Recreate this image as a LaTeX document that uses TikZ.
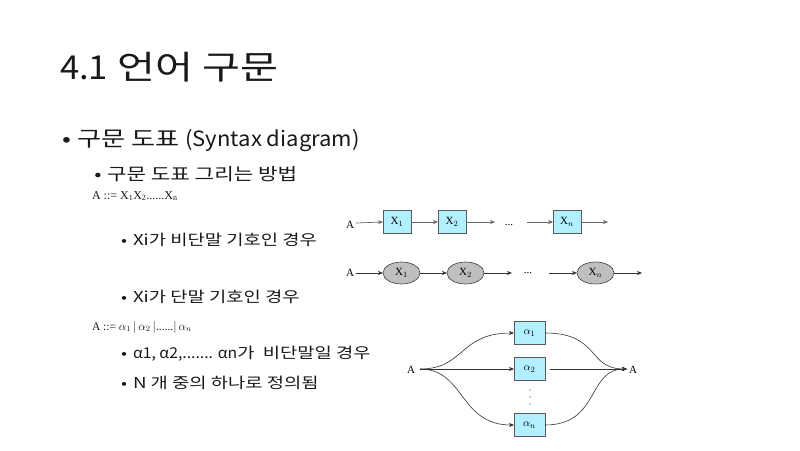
\documentclass[tikz,border=0pt]{standalone}
\usepackage{fontspec}
\setmainfont{Noto Sans CJK KR}[FakeStretch=1.25]
\newfontfamily\la{Noto Sans CJK KR}[FakeStretch=1.05]
\newfontfamily\serifx{Liberation Serif}
\usetikzlibrary{arrows.meta,shapes.geometric}
\begin{document}
\begin{tikzpicture}[x=1pt,y=-1pt,
  every node/.style={inner sep=0pt,outer sep=0pt},
  txt/.style={anchor=base west,text=black!90},
  bul/.style={anchor=base,text=black!90},
  bx/.style={draw=black!65,fill=blue!20!cyan!30,minimum width=28pt,minimum height=23pt,line width=0.6pt,font=\serifx\fontsize{11}{12}\selectfont},
  el/.style={ellipse,draw=black!75,fill=black!25,minimum width=37pt,minimum height=22pt,line width=0.6pt,font=\serifx\fontsize{11}{12}\selectfont},
  ab/.style={draw=black!65,fill=blue!20!cyan!30,minimum width=31pt,minimum height=23pt,line width=0.6pt,font=\serifx\fontsize{11}{12}\selectfont},
  arr/.style={-{Stealth[length=5pt,width=4pt]},line width=0.7pt,draw=black!60},
  arrd/.style={-{Stealth[length=5pt,width=4pt]},line width=0.6pt,draw=black!80},
  lbl/.style={font=\serifx\fontsize{11}{12}\selectfont}]
\useasboundingbox (0,0) rectangle (800,450);
\fill[white] (0,0) rectangle (800,450);
% title and bullets
\node[txt,font=\fontsize{33}{38}\selectfont] (title) at (60,79) {{\la 4.1} 언어 구문};
\node[bul,font=\fontsize{21}{25}\selectfont] (p1) at (67,146) {•};
\node[txt,font=\fontsize{21}{25}\selectfont] (b1) at (77,146) {구문 도표 {\la (Syntax diagram)}};
\node[bul,font=\fontsize{17}{22}\selectfont] (p2) at (98,180) {•};
\node[txt,font=\fontsize{17}{22}\selectfont] (b2) at (107,180) {구문 도표 그리는 방법};
\node[txt,font=\serifx\fontsize{12}{14}\selectfont] (f1) at (92,199) {A ::= X\textsubscript{1}X\textsubscript{2}......X\textsubscript{n}};
\node[bul,font=\fontsize{14}{18}\selectfont] (p3) at (124,245) {•};
\node[txt,font=\fontsize{15}{18}\selectfont] (b3) at (133,245) {Xi가 비단말 기호인 경우};
\node[bul,font=\fontsize{14}{18}\selectfont] (p4) at (124,302) {•};
\node[txt,font=\fontsize{15}{18}\selectfont] (b4) at (133,302) {Xi가 단말 기호인 경우};
\node[txt,font=\serifx\fontsize{11.5}{13}\selectfont] (f2) at (92,330) {A ::= $\alpha_1\,|\,\alpha_2\,|$......$|\,\alpha_n$};
\node[bul,font=\fontsize{14}{18}\selectfont] (p5) at (124,358) {•};
\node[txt,font=\fontsize{15}{18}\selectfont] (b5) at (133,358) {{\la α1, α2,....... αn}가 \ 비단말일 경우};
\node[bul,font=\fontsize{14}{18}\selectfont] (p6) at (124,388) {•};
\node[txt,font=\fontsize{15}{18}\selectfont] (b6) at (133,388) {N 개 중의 하나로 정의됨};
% diagram 1 (boxes)
\node[lbl] (A1) at (350,225) {A};
\node[bx] (X1) at (397,222) {X$_1$};
\node[bx] (X2) at (452,222) {X$_2$};
\node[lbl] (d1) at (509,225) {...};
\node[bx] (Xn) at (567,222) {X$_n$};
\coordinate (e1) at (495,222);
\coordinate (s1) at (527,222);
\coordinate (f1e) at (608,222);
\draw[arr] (A1.east) ++(2,-2) -- (X1.west);
\draw[arr] (X1.east) -- (X2.west);
\draw[arr] (X2.east) -- (e1);
\draw[arr] (s1) -- (Xn.west);
\draw[arr] (Xn.east) -- (f1e);
% diagram 2 (ellipses)
\node[lbl] (A2) at (350,273) {A};
\node[el] (Y1) at (401.5,273) {X$_1$};
\node[el] (Y2) at (465.5,273) {X$_2$};
\node[lbl] (d2) at (528,273) {...};
\node[el] (Yn) at (595.5,273) {X$_n$};
\coordinate (e2) at (512,273);
\coordinate (s2) at (549,273);
\coordinate (f2e) at (642,273);
\draw[arrd] (A2.east) ++(2,0) -- (Y1.west);
\draw[arrd] (Y1.east) -- (Y2.west);
\draw[arrd] (Y2.east) -- (e2);
\draw[arrd] (s2) -- (Yn.west);
\draw[arrd] (Yn.east) -- (f2e);
% diagram 3 (alternatives)
\node[lbl] (A3) at (411,370) {A};
\node[lbl] (B3) at (633,370) {A};
\node[ab] (a1) at (529.5,333) {$\alpha_1$};
\node[ab] (a2) at (529.5,369) {$\alpha_2$};
\node[ab] (an) at (529.5,425) {$\alpha_n$};
\foreach \yy in {390,397,404} \fill[black!80] (530,\yy) circle (0.6pt);
\coordinate (m) at (627,369);
\draw[arrd] (A3.east) ++(5,-1) .. controls +(45,0) and +(-55,0) .. (a1.west);
\draw[arrd] (A3.east) ++(5,-1) -- (a2.west);
\draw[arrd] (A3.east) ++(5,-1) .. controls +(45,0) and +(-55,0) .. (an.west);
\draw[arrd] (a1.east) .. controls +(55,0) and +(-40,0) .. (m);
\draw[arrd] (a2.east) ++(5,0) -- (m);
\draw[arrd] (an.east) .. controls +(55,0) and +(-40,0) .. (m);
\end{tikzpicture}
\end{document}
